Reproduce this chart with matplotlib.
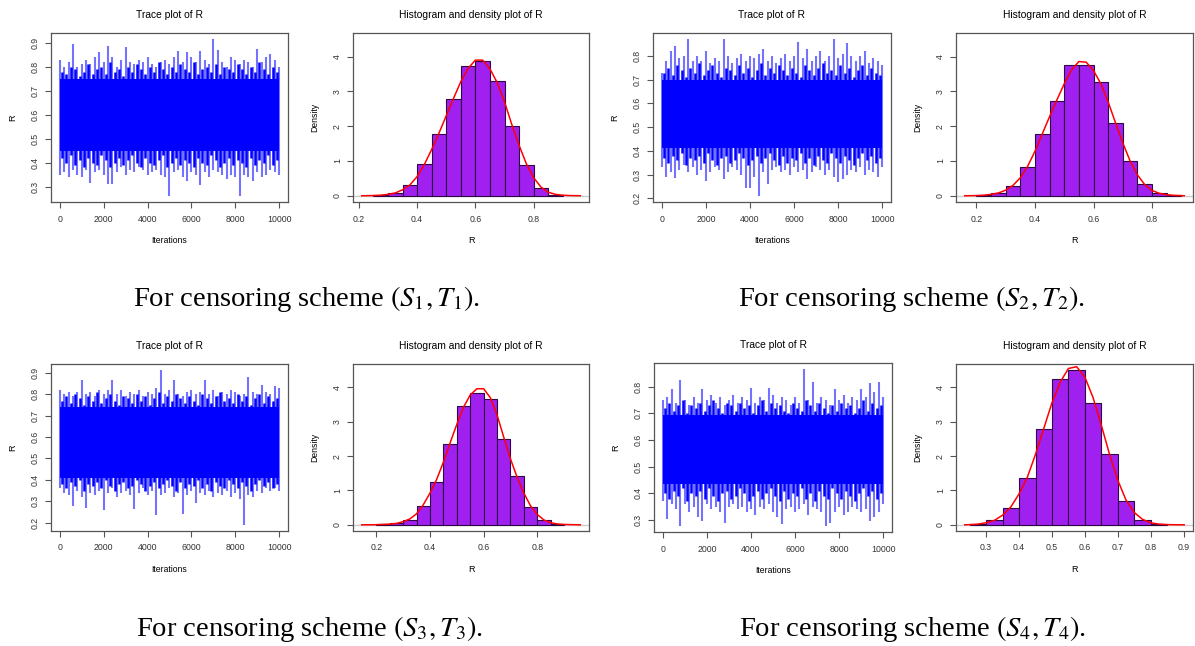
import numpy as np
import matplotlib
matplotlib.use("Agg")
import matplotlib.pyplot as plt

plt.rcParams['font.family'] = ['Liberation Sans', 'DejaVu Sans']
plt.rcParams['mathtext.fontset'] = 'stix'

# iterations at which the light outer spikes of the traces were read
iters = [0, 200, 400, 600, 800, 1000, 1200, 1400, 1600, 1800,
         2000, 2200, 2400, 2600, 2800, 3000, 3200, 3400, 3600, 3800,
         4000, 4200, 4400, 4600, 4800, 5000, 5200, 5400, 5600, 5800,
         6000, 6200, 6400, 6600, 6800, 7000, 7200, 7400, 7600, 7800,
         8000, 8200, 8400, 8600, 8800, 9000, 9200, 9400, 9600, 9800, 10000]
# iterations at which the dark jagged edge of the band was read
iters_mid = [100, 300, 500, 700, 900, 1100, 1300, 1500, 1700, 1900,
             2100, 2300, 2500, 2700, 2900, 3100, 3300, 3500, 3700, 3900,
             4100, 4300, 4500, 4700, 4900, 5100, 5300, 5500, 5700, 5900,
             6100, 6300, 6500, 6700, 6900, 7100, 7300, 7500, 7700, 7900,
             8100, 8300, 8500, 8700, 8900, 9100, 9300, 9500, 9700, 9900]

# (S1, T1)
core_1 = (0.45, 0.75)
upper_1 = [0.83, 0.80, 0.82, 0.895, 0.80, 0.81, 0.83, 0.81, 0.84, 0.86,
           0.82, 0.885, 0.84, 0.80, 0.83, 0.883, 0.82, 0.81, 0.83, 0.82,
           0.84, 0.81, 0.80, 0.82, 0.83, 0.81, 0.84, 0.865, 0.82, 0.86,
           0.84, 0.82, 0.865, 0.83, 0.81, 0.915, 0.87, 0.82, 0.80, 0.84,
           0.83, 0.81, 0.83, 0.82, 0.80, 0.875, 0.82, 0.84, 0.855, 0.83, 0.80]
lower_1 = [0.35, 0.36, 0.34, 0.37, 0.35, 0.34, 0.37, 0.314, 0.36, 0.37,
           0.35, 0.31, 0.31, 0.36, 0.38, 0.35, 0.37, 0.36, 0.38, 0.37,
           0.35, 0.36, 0.37, 0.35, 0.34, 0.262, 0.36, 0.37, 0.34, 0.325,
           0.36, 0.35, 0.305, 0.36, 0.34, 0.37, 0.36, 0.35, 0.33, 0.35,
           0.34, 0.262, 0.35, 0.34, 0.325, 0.36, 0.34, 0.35, 0.37, 0.36, 0.35]
edge_hi_1 = [0.78, 0.77, 0.80, 0.79, 0.76, 0.78, 0.81, 0.77, 0.79, 0.80,
             0.77, 0.82, 0.78, 0.79, 0.76, 0.80, 0.78, 0.81, 0.79, 0.77,
             0.80, 0.78, 0.82, 0.79, 0.77, 0.80, 0.78, 0.81, 0.79, 0.78,
             0.82, 0.77, 0.79, 0.80, 0.78, 0.81, 0.77, 0.80, 0.79, 0.78,
             0.81, 0.79, 0.77, 0.80, 0.78, 0.82, 0.79, 0.77, 0.80, 0.78]
edge_lo_1 = [0.42, 0.40, 0.43, 0.39, 0.41, 0.38, 0.42, 0.40, 0.39, 0.43,
             0.41, 0.38, 0.40, 0.42, 0.39, 0.41, 0.43, 0.40, 0.38, 0.42,
             0.40, 0.39, 0.41, 0.43, 0.38, 0.40, 0.42, 0.39, 0.41, 0.40,
             0.38, 0.42, 0.40, 0.39, 0.43, 0.41, 0.38, 0.40, 0.42, 0.39,
             0.41, 0.40, 0.38, 0.42, 0.39, 0.41, 0.40, 0.43, 0.39, 0.41]

# (S2, T2)
core_2 = (0.41, 0.70)
upper_2 = [0.73, 0.78, 0.82, 0.84, 0.79, 0.80, 0.87, 0.78, 0.80, 0.78,
           0.82, 0.77, 0.79, 0.78, 0.87, 0.80, 0.77, 0.79, 0.81, 0.78,
           0.80, 0.79, 0.81, 0.83, 0.78, 0.80, 0.77, 0.79, 0.81, 0.78,
           0.80, 0.86, 0.79, 0.83, 0.78, 0.80, 0.82, 0.78, 0.80, 0.87,
           0.79, 0.81, 0.855, 0.80, 0.78, 0.80, 0.82, 0.77, 0.79, 0.78, 0.76]
lower_2 = [0.33, 0.29, 0.31, 0.285, 0.32, 0.34, 0.31, 0.33, 0.30, 0.32,
           0.275, 0.31, 0.33, 0.32, 0.28, 0.31, 0.33, 0.32, 0.30, 0.245,
           0.245, 0.29, 0.211, 0.31, 0.26, 0.32, 0.33, 0.31, 0.32, 0.30,
           0.33, 0.31, 0.32, 0.28, 0.31, 0.33, 0.32, 0.30, 0.32, 0.29,
           0.27, 0.28, 0.30, 0.32, 0.31, 0.33, 0.30, 0.32, 0.31, 0.29, 0.33]
edge_hi_2 = [0.73, 0.75, 0.72, 0.76, 0.74, 0.71, 0.75, 0.73, 0.77, 0.72,
             0.74, 0.76, 0.73, 0.71, 0.75, 0.74, 0.72, 0.76, 0.73, 0.75,
             0.71, 0.74, 0.77, 0.72, 0.75, 0.73, 0.76, 0.74, 0.72, 0.75,
             0.73, 0.71, 0.76, 0.74, 0.72, 0.75, 0.77, 0.73, 0.74, 0.72,
             0.76, 0.73, 0.75, 0.71, 0.74, 0.76, 0.72, 0.75, 0.73, 0.72]
edge_lo_2 = [0.37, 0.35, 0.38, 0.36, 0.39, 0.34, 0.37, 0.36, 0.38, 0.35,
             0.39, 0.36, 0.34, 0.37, 0.38, 0.35, 0.36, 0.39, 0.37, 0.34,
             0.36, 0.38, 0.35, 0.37, 0.39, 0.36, 0.34, 0.38, 0.35, 0.37,
             0.36, 0.39, 0.35, 0.37, 0.34, 0.38, 0.36, 0.35, 0.39, 0.37,
             0.35, 0.38, 0.36, 0.34, 0.37, 0.39, 0.36, 0.38, 0.35, 0.37]

# (S3, T3)
core_3 = (0.41, 0.74)
upper_3 = [0.82, 0.80, 0.81, 0.79, 0.81, 0.865, 0.80, 0.81, 0.79, 0.82,
           0.80, 0.82, 0.865, 0.80, 0.82, 0.79, 0.81, 0.80, 0.82, 0.79,
           0.81, 0.80, 0.83, 0.912, 0.80, 0.82, 0.865, 0.80, 0.79, 0.81,
           0.82, 0.80, 0.81, 0.865, 0.80, 0.82, 0.79, 0.81, 0.80, 0.82,
           0.81, 0.79, 0.80, 0.88, 0.81, 0.80, 0.845, 0.81, 0.80, 0.84, 0.83]
lower_3 = [0.36, 0.34, 0.33, 0.28, 0.35, 0.32, 0.27, 0.34, 0.33, 0.35,
           0.26, 0.34, 0.36, 0.32, 0.34, 0.35, 0.33, 0.265, 0.34, 0.36,
           0.33, 0.35, 0.237, 0.33, 0.34, 0.36, 0.32, 0.34, 0.24, 0.33,
           0.35, 0.29, 0.34, 0.33, 0.35, 0.32, 0.34, 0.33, 0.35, 0.32,
           0.34, 0.31, 0.19, 0.33, 0.32, 0.35, 0.34, 0.36, 0.35, 0.36, 0.35]
edge_hi_3 = [0.77, 0.79, 0.76, 0.80, 0.78, 0.75, 0.79, 0.77, 0.81, 0.76,
             0.78, 0.80, 0.77, 0.75, 0.79, 0.78, 0.76, 0.80, 0.77, 0.79,
             0.75, 0.78, 0.81, 0.76, 0.79, 0.77, 0.80, 0.78, 0.76, 0.79,
             0.77, 0.75, 0.80, 0.78, 0.76, 0.79, 0.81, 0.77, 0.78, 0.76,
             0.80, 0.77, 0.79, 0.75, 0.78, 0.80, 0.76, 0.79, 0.77, 0.78]
edge_lo_3 = [0.38, 0.36, 0.39, 0.37, 0.40, 0.35, 0.38, 0.37, 0.39, 0.36,
             0.40, 0.37, 0.35, 0.38, 0.39, 0.36, 0.37, 0.40, 0.38, 0.35,
             0.37, 0.39, 0.36, 0.38, 0.40, 0.37, 0.35, 0.39, 0.36, 0.38,
             0.37, 0.40, 0.36, 0.38, 0.35, 0.39, 0.37, 0.36, 0.40, 0.38,
             0.36, 0.39, 0.37, 0.35, 0.38, 0.40, 0.37, 0.39, 0.36, 0.38]

# (S4, T4)
core_4 = (0.435, 0.695)
upper_4 = [0.75, 0.76, 0.79, 0.74, 0.825, 0.75, 0.73, 0.76, 0.74, 0.79,
           0.75, 0.77, 0.74, 0.76, 0.73, 0.75, 0.77, 0.74, 0.76, 0.75,
           0.795, 0.74, 0.76, 0.75, 0.795, 0.77, 0.74, 0.76, 0.75, 0.73,
           0.76, 0.74, 0.866, 0.75, 0.82, 0.74, 0.76, 0.75, 0.73, 0.79,
           0.75, 0.77, 0.74, 0.76, 0.75, 0.79, 0.76, 0.815, 0.78, 0.82, 0.76]
lower_4 = [0.37, 0.305, 0.36, 0.34, 0.278, 0.36, 0.33, 0.35, 0.31, 0.297,
           0.36, 0.34, 0.35, 0.33, 0.29, 0.35, 0.36, 0.34, 0.35, 0.33,
           0.34, 0.32, 0.35, 0.34, 0.36, 0.33, 0.31, 0.285, 0.34, 0.35,
           0.33, 0.34, 0.36, 0.32, 0.35, 0.34, 0.33, 0.278, 0.29, 0.33,
           0.35, 0.32, 0.33, 0.35, 0.34, 0.33, 0.34, 0.295, 0.31, 0.33, 0.36]
edge_hi_4 = [0.72, 0.74, 0.71, 0.73, 0.75, 0.70, 0.73, 0.72, 0.74, 0.71,
             0.73, 0.75, 0.72, 0.70, 0.74, 0.73, 0.71, 0.74, 0.72, 0.73,
             0.70, 0.73, 0.75, 0.71, 0.74, 0.72, 0.73, 0.71, 0.70, 0.74,
             0.72, 0.71, 0.75, 0.73, 0.71, 0.74, 0.72, 0.70, 0.73, 0.71,
             0.74, 0.72, 0.73, 0.70, 0.72, 0.75, 0.71, 0.74, 0.72, 0.73]
edge_lo_4 = [0.40, 0.38, 0.41, 0.39, 0.42, 0.37, 0.40, 0.39, 0.41, 0.38,
             0.42, 0.39, 0.37, 0.40, 0.41, 0.38, 0.39, 0.42, 0.40, 0.37,
             0.39, 0.41, 0.38, 0.40, 0.42, 0.39, 0.37, 0.41, 0.38, 0.40,
             0.39, 0.42, 0.38, 0.40, 0.37, 0.41, 0.39, 0.38, 0.42, 0.40,
             0.38, 0.41, 0.39, 0.37, 0.40, 0.42, 0.39, 0.41, 0.38, 0.40]

# histogram bins (width 0.05) and densities
edges_1 = [0.25, 0.30, 0.35, 0.40, 0.45, 0.50, 0.55, 0.60, 0.65, 0.70, 0.75, 0.80, 0.85, 0.90]
hist_1 = [0.01, 0.07, 0.30, 0.91, 1.77, 2.79, 3.74, 3.88, 3.31, 2.00, 0.89, 0.21, 0.03]
edges_2 = [0.20, 0.25, 0.30, 0.35, 0.40, 0.45, 0.50, 0.55, 0.60, 0.65, 0.70, 0.75, 0.80, 0.85, 0.90]
hist_2 = [0.01, 0.07, 0.27, 0.82, 1.78, 2.73, 3.76, 3.75, 3.27, 2.10, 1.00, 0.33, 0.07, 0.01]
edges_3 = [0.20, 0.25, 0.30, 0.35, 0.40, 0.45, 0.50, 0.55, 0.60, 0.65, 0.70, 0.75, 0.80, 0.85, 0.90]
hist_3 = [0.01, 0.05, 0.15, 0.56, 1.26, 2.35, 3.46, 3.85, 3.66, 2.51, 1.41, 0.53, 0.14, 0.02]
edges_4 = [0.25, 0.30, 0.35, 0.40, 0.45, 0.50, 0.55, 0.60, 0.65, 0.70, 0.75, 0.80, 0.85]
hist_4 = [0.02, 0.13, 0.50, 1.35, 2.78, 4.24, 4.51, 3.55, 2.07, 0.70, 0.15, 0.01]

# kernel density curves read at 0.025 steps
dens_x_1 = [0.21, 0.25, 0.275, 0.30, 0.325, 0.35, 0.375, 0.40, 0.425, 0.45, 0.475, 0.50, 0.525,
            0.55, 0.575, 0.60, 0.625, 0.65, 0.675, 0.70, 0.725, 0.75, 0.775, 0.80, 0.825,
            0.85, 0.875, 0.90, 0.925, 0.96]
dens_y_1 = [0.0, 0.005, 0.015, 0.04, 0.08, 0.17, 0.31, 0.55, 0.90, 1.33, 1.80, 2.30, 2.80,
            3.28, 3.66, 3.90, 3.90, 3.65, 3.25, 2.70, 2.05, 1.45, 0.92, 0.52, 0.25,
            0.10, 0.04, 0.015, 0.005, 0.0]
dens_x_2 = [0.16, 0.20, 0.225, 0.25, 0.275, 0.30, 0.325, 0.35, 0.375, 0.40, 0.425, 0.45, 0.475,
            0.50, 0.525, 0.55, 0.575, 0.60, 0.625, 0.65, 0.675, 0.70, 0.725, 0.75, 0.775,
            0.80, 0.825, 0.85, 0.875, 0.91]
dens_y_2 = [0.0, 0.005, 0.015, 0.04, 0.08, 0.16, 0.30, 0.52, 0.85, 1.28, 1.78, 2.28, 2.76,
            3.22, 3.62, 3.86, 3.84, 3.60, 3.22, 2.70, 2.10, 1.52, 1.00, 0.60, 0.32,
            0.15, 0.07, 0.03, 0.01, 0.0]
dens_x_3 = [0.146, 0.20, 0.25, 0.275, 0.30, 0.325, 0.35, 0.375, 0.40, 0.425, 0.45, 0.475,
            0.50, 0.525, 0.55, 0.575, 0.60, 0.625, 0.65, 0.675, 0.70, 0.725, 0.75, 0.775,
            0.80, 0.825, 0.85, 0.875, 0.90, 0.96]
dens_y_3 = [0.0, 0.003, 0.02, 0.04, 0.09, 0.17, 0.32, 0.58, 0.92, 1.32, 1.82, 2.38,
            2.92, 3.42, 3.78, 3.96, 3.96, 3.70, 3.20, 2.55, 1.92, 1.38, 0.92, 0.55,
            0.30, 0.14, 0.06, 0.025, 0.01, 0.0]
dens_x_4 = [0.235, 0.26, 0.275, 0.30, 0.325, 0.35, 0.375, 0.40, 0.425, 0.45, 0.475, 0.50,
            0.525, 0.55, 0.575, 0.60, 0.625, 0.65, 0.675, 0.70, 0.725, 0.75, 0.775,
            0.80, 0.825, 0.85, 0.875, 0.902]
dens_y_4 = [0.0, 0.01, 0.02, 0.06, 0.13, 0.28, 0.52, 0.90, 1.38, 2.05, 2.80, 3.55,
            4.15, 4.55, 4.60, 4.30, 3.70, 2.90, 2.05, 1.30, 0.72, 0.36, 0.16,
            0.06, 0.02, 0.006, 0.002, 0.0]

trace_yticks = [[0.3, 0.4, 0.5, 0.6, 0.7, 0.8, 0.9],
                [0.2, 0.3, 0.4, 0.5, 0.6, 0.7, 0.8],
                [0.2, 0.3, 0.4, 0.5, 0.6, 0.7, 0.8, 0.9],
                [0.3, 0.4, 0.5, 0.6, 0.7, 0.8]]
hist_xticks = [[0.2, 0.4, 0.6, 0.8],
               [0.2, 0.4, 0.6, 0.8],
               [0.2, 0.4, 0.6, 0.8],
               [0.3, 0.4, 0.5, 0.6, 0.7, 0.8, 0.9]]
iter_ticks = [0, 2000, 4000, 6000, 8000, 10000]
dens_ticks = [0, 1, 2, 3, 4]
captions = ['For censoring scheme $(S_1, T_1)$.', 'For censoring scheme $(S_2, T_2)$.',
            'For censoring scheme $(S_3, T_3)$.', 'For censoring scheme $(S_4, T_4)$.']

W, H = 1195, 646
fig = plt.figure(figsize=(W / 100, H / 100), dpi=100)


def box(x0, y0, x1, y1):
    return [x0 / W, 1 - y1 / H, (x1 - x0) / W, (y1 - y0) / H]


def r_style(ax):
    for s in ax.spines.values():
        s.set_color('#555555')
        s.set_linewidth(0.9)
    ax.tick_params(direction='out', length=4, width=0.8, color='#555555',
                   labelsize=6.3, labelcolor='#333333', pad=5)
    ax.tick_params(axis='y', labelrotation=90, pad=4)
    for lab in ax.get_yticklabels():
        lab.set_va('center')


def pad_range(lo, hi):
    d = (hi - lo) * 0.04
    return lo - d, hi + d


def trace_panel(rect, core, upper, lower, edge_hi, edge_lo, yticks):
    ax = fig.add_axes(rect)
    mid = (core[0] + core[1]) / 2
    ax.vlines(iters, mid, upper, color='#0000ff', alpha=0.55, lw=1.5)
    ax.vlines(iters, lower, mid, color='#0000ff', alpha=0.55, lw=1.5)
    ax.vlines(iters_mid, mid, edge_hi, color='#0000ff', lw=1.8)
    ax.vlines(iters_mid, edge_lo, mid, color='#0000ff', lw=1.8)
    ax.fill_between([iters[0], iters[-1]], core[0], core[1], color='#0000ff', lw=0)
    ax.set_xlim(pad_range(1, 10000))
    ax.set_ylim(pad_range(min(lower), max(upper)))
    ax.set_xticks(iter_ticks)
    ax.set_yticks(yticks)
    ax.set_yticklabels([f'{t:g}' for t in yticks])
    ax.set_title('Trace plot of R', fontsize=7.4, pad=11)
    ax.set_xlabel('Iterations', fontsize=6.2, labelpad=9)
    ax.set_ylabel('R', fontsize=6.5, labelpad=10)
    r_style(ax)
    return ax


def hist_panel(rect, edges, heights, dx, dy, xticks):
    ax = fig.add_axes(rect)
    ax.axhline(0, color='#cccccc', lw=1.0, zorder=0)
    ax.bar(edges[:-1], heights, width=np.diff(edges), align='edge',
           color='#a020f0', edgecolor='#2e0845', linewidth=0.8)
    ax.plot(dx, dy, color='red', lw=1.1)
    ax.set_xlim(pad_range(dx[0], dx[-1]))
    ax.set_ylim(pad_range(0, 4.5))
    ax.set_xticks(xticks)
    ax.set_xticklabels([f'{t:g}' for t in xticks])
    ax.set_yticks(dens_ticks)
    ax.set_title('Histogram and density plot of R', fontsize=7.4, pad=11)
    ax.set_xlabel('R', fontsize=6.5, labelpad=9)
    ax.set_ylabel('Density', fontsize=6.2, labelpad=10)
    r_style(ax)
    return ax


trace_panel(box(51, 33, 288, 202), core_1, upper_1, lower_1, edge_hi_1, edge_lo_1, trace_yticks[0])
hist_panel(box(353, 33, 589, 202), edges_1, hist_1, dens_x_1, dens_y_1, hist_xticks[0])
trace_panel(box(653, 33, 891, 202), core_2, upper_2, lower_2, edge_hi_2, edge_lo_2, trace_yticks[1])
hist_panel(box(956, 33, 1193, 202), edges_2, hist_2, dens_x_2, dens_y_2, hist_xticks[1])
trace_panel(box(51, 364, 288, 531), core_3, upper_3, lower_3, edge_hi_3, edge_lo_3, trace_yticks[2])
hist_panel(box(353, 364, 589, 531), edges_3, hist_3, dens_x_3, dens_y_3, hist_xticks[2])
trace_panel(box(654, 363, 892, 532), core_4, upper_4, lower_4, edge_hi_4, edge_lo_4, trace_yticks[3])
hist_panel(box(956, 364, 1193, 531), edges_4, hist_4, dens_x_4, dens_y_4, hist_xticks[3])

cap_pos = [(307, 299), (912, 299), (310, 629), (913, 629)]
for (cx, cy), txt in zip(cap_pos, captions):
    fig.text(cx / W, 1 - cy / H, txt, fontsize=20.5, ha='center', va='center',
             family=['Liberation Serif', 'DejaVu Serif'])

fig.savefig('out.png', dpi=100)
